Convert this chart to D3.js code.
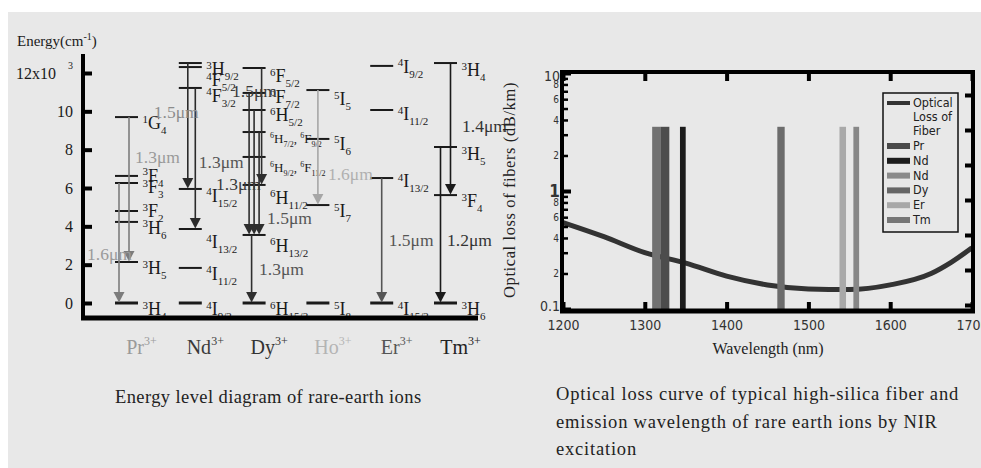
<!DOCTYPE html>
<html><head><meta charset="utf-8">
<script src="https://cdn.jsdelivr.net/npm/d3@7"></script>
<style>
html,body{margin:0;padding:0;background:#fff;}
svg{display:block;}
.narrow{font-stretch:condensed;}
</style></head><body>
<svg id="fig" width="981" height="468"></svg>
<script>
// ---------- Energy level diagram (energies in 10^3 cm^-1) ----------
const ions = ["Pr","Nd","Dy","Ho","Er","Tm"];
const energyTicks = [0,2,4,6,8,10,12];

const prLevels = [["1G4",9.70],["3F4",6.63],["3F3",6.26],["3F2",4.80],["3H6",4.23],["3H5",2.14],["3H4",0]];
const ndLevels = [["3H9/2",12.52],["4F5/2",12.31],["4F3/2",11.22],["4I15/2",5.95],["4I13/2",3.86],["4I11/2",1.83],["4I9/2",0]];
const dyLevels = [["6F5/2",12.26],["6F7/2",10.96],["6H5/2",10.07],["6H7/2, 6F9/2",8.92],["6H9/2, 6F11/2",7.62],["6H11/2",6.16],["6H13/2",3.55],["6H15/2",0]];
const hoLevels = [["5I5",11.11],["5I6",8.56],["5I7",5.11],["5I8",0]];
const erLevels = [["4I9/2",12.37],["4I11/2",10.07],["4I13/2",6.52],["4I15/2",0]];
const tmLevels = [["3H4",12.52],["3H5",8.14],["3F4",5.63],["3H6",0]];

// radiative transitions: ion, upper energy, lower energy, lane inside the ion column
const transIon  = ["Pr","Pr","Nd","Nd","Dy","Dy","Dy","Dy","Dy","Ho","Er","Tm","Tm"];
const transFrom = [9.70,6.26,12.52,11.22,12.26,10.96,10.07,8.92,3.55,11.11,6.52,12.52,8.14];
const transTo   = [2.14,0,5.95,3.86,6.16,3.55,3.55,3.55,0,5.11,0,5.63,0];
const transLane = [1,-3,-1,2,3,-2,0,2,-1,0,0,2,-2];

// emission wavelength annotations
const bandIon  = ["Nd","Pr","Pr","Nd","Dy","Dy","Dy","Dy","Ho","Er","Tm","Tm"];
const bandText = ["1.5μm","1.3μm","1.6μm","1.3μm","1.3μm","1.5μm","1.5μm","1.3μm","1.6μm","1.5μm","1.4μm","1.2μm"];
const bandE    = [9.65,7.30,2.24,7.04,5.90,10.75,4.10,1.46,6.42,2.97,8.92,2.97];

// ---------- Optical loss of silica fiber ----------
const lossWl = [1200,1250,1300,1350,1400,1450,1500,1550,1600,1650,1675,1700];
const lossDb = [0.54,0.41,0.30,0.245,0.19,0.16,0.148,0.146,0.16,0.20,0.25,0.33];
const wlTicks = [1200,1300,1400,1500,1600,1700];
const lossMajor = [0.1,1,10];
const lossMinor = [0.2,0.3,0.4,0.5,0.6,0.7,0.8,0.9,2,3,4,5,6,7,8,9];
const lossLabeled = [0.2,0.4,0.6,0.8,2,4,6,8];

// emission bands of the ions (nm) and their height on the loss axis
const emIon  = ["Nd","Pr","Nd","Dy","Er","Tm"];
const emFrom = [1309,1319,1343,1462,1538,1555];
const emTo   = [1319,1330,1350,1471,1546,1562];
const emPeak = 3.5;
const legendNames = ["Pr","Nd","Nd","Dy","Er","Tm"];

// ---------- styling ----------
const SERIF = "'Liberation Serif','Times New Roman',serif";
const NARROW = "'Liberation Sans Narrow','Arial Narrow','DejaVu Sans Condensed','DejaVu Sans',sans-serif";
const ionColor = {Pr:"#9a9a9a", Nd:"#3a3a3a", Dy:"#333", Ho:"#b4b4b4", Er:"#555", Tm:"#222"};
const arrowColor = {Pr:"#7c7c7c", Nd:"#2a2a2a", Dy:"#2e2e2e", Ho:"#a6a6a6", Er:"#555", Tm:"#1a1a1a"};
const bandColor = ["#8c8c8c","#9a9a9a","#9a9a9a","#555","#3a3a3a","#3a3a3a","#555","#555","#b0b0b0","#555","#333","#333"];
const bandDx = [-36.5,8.5,-39.5,8.5,-38,-22,13,5,10,7,16.5,1.5];
const emColor = ["#717171","#4c4c4c","#1c1c1c","#6c6c6c","#a9a9a9","#878787"];
const legendColor = ["#4a4a4a","#1c1c1c","#8a8a8a","#666","#a8a8a8","#777"];
const labelDrop = {"Pr:3F4":6,"Pr:3F3":10,"Pr:3F2":6,"Nd:4F5/2":19,"Nd:4F3/2":14,"Nd:4I15/2":13,"Nd:4I13/2":19,
  "Dy:6F5/2":14,"Dy:6F7/2":10,"Dy:6H5/2":11,"Dy:6H7/2, 6F9/2":11,"Dy:6H9/2, 6F11/2":15,"Dy:6H11/2":19,"Dy:6H13/2":17,
  "Ho:5I5":15,"Ho:5I6":11,"Er:4I9/2":7,"Er:4I11/2":10,"Er:4I13/2":9,"Tm:3H4":13,"Tm:3H5":13};

const svg = d3.select("#fig");
svg.append("rect").attr("x",8).attr("y",12).attr("width",973).attr("height",456).attr("fill","#e8e8e8");

// ================= left panel =================
const colX = d3.scalePoint().domain(ions).range([126.5,445.5]);
const yE = d3.scaleLinear().domain([0,12]).range([303,73]);
const HALF = 11.5, LANE = 2.5;
const levelsByIon = {Pr:prLevels, Nd:ndLevels, Dy:dyLevels, Ho:hoLevels, Er:erLevels, Tm:tmLevels};

const left = svg.append("g");

// spectroscopic term: pre-superscript multiplicity, letter, subscript J
function addTerm(textSel, term, big){
  const small = Math.round(big*0.6);
  let cur = 0;
  const move = t => { const d = t - cur; cur = t; return d; };
  term.split(", ").forEach((t,i) => {
    const m = t.match(/^(\d+)([A-Z])(.*)$/);
    if (i > 0) textSel.append("tspan").attr("font-size", big).attr("dy", move(0)).text(", ");
    textSel.append("tspan").attr("font-size", small).attr("dy", move(-big*0.36)).text(m[1]);
    textSel.append("tspan").attr("font-size", big).attr("dy", move(0)).text(m[2]);
    textSel.append("tspan").attr("font-size", small).attr("dy", move(big*0.28)).text(m[3]);
  });
}

ions.forEach(ion => {
  const cx = colX(ion);
  const g = left.append("g");
  g.selectAll("line.level").data(levelsByIon[ion]).join("line")
    .attr("x1", cx-HALF).attr("x2", cx+HALF)
    .attr("y1", d => yE(d[1])).attr("y2", d => yE(d[1]))
    .attr("stroke", "#1a1a1a").attr("stroke-width", d => d[1] === 0 ? 3 : 2);
  levelsByIon[ion].forEach(d => {
    const key = ion + ":" + d[0];
    const drop = labelDrop[key] !== undefined ? labelDrop[key] : 12;
    const composite = d[0].indexOf(",") >= 0;
    const t = g.append("text").attr("x", cx+16).attr("y", yE(d[1]) + drop)
      .attr("font-family", SERIF).attr("fill", "#1a1a1a");
    addTerm(t, d[0], composite ? 13 : 18);
  });
});

// transitions with arrowheads
transIon.forEach((ion,i) => {
  const x = colX(ion) + transLane[i]*LANE;
  const y1 = yE(transFrom[i]), y2 = yE(transTo[i]);
  const c = arrowColor[ion];
  left.append("line").attr("x1", x).attr("x2", x).attr("y1", y1).attr("y2", y2 - 8)
    .attr("stroke", c).attr("stroke-width", 1.6);
  left.append("path").attr("d", d3.line()([[x-5.5, y2-11],[x+5.5, y2-11],[x, y2-0.5]]) + "Z")
    .attr("fill", c);
});

// wavelength annotations
bandIon.forEach((ion,i) => {
  left.append("text").attr("x", colX(ion) + bandDx[i]).attr("y", yE(bandE[i]))
    .attr("font-family", SERIF).attr("font-size", 17.5).attr("fill", bandColor[i])
    .text(bandText[i]);
});

// ion names under the columns
ions.forEach(ion => {
  const t = left.append("text").attr("x", colX(ion) + 15).attr("y", 354)
    .attr("text-anchor", "middle").attr("font-family", SERIF).attr("fill", ionColor[ion]);
  t.append("tspan").attr("font-size", 20).text(ion);
  t.append("tspan").attr("font-size", 12).attr("dy", -9).text("3+");
});

// energy axis
const eAxis = d3.axisLeft(yE).tickValues(energyTicks).tickSize(-9).tickPadding(10)
  .tickFormat(d => d === 12 ? "" : d);
const eg = left.append("g").attr("transform", "translate(83,0)").call(eAxis);
eg.select(".domain").remove();
eg.selectAll(".tick line").attr("stroke", "#000").attr("stroke-width", 4);
eg.selectAll(".tick text").attr("font-family", SERIF).attr("font-size", 16).attr("fill", "#1a1a1a");
const top12 = eg.selectAll(".tick").filter(d => d === 12).select("text");
top12.append("tspan").text("12x10");
top12.append("tspan").attr("font-size", 10).attr("dx", 12).attr("dy", -10).text("3");
left.append("line").attr("x1", 83).attr("x2", 83).attr("y1", 54).attr("y2", 320)
  .attr("stroke", "#000").attr("stroke-width", 4);
left.append("line").attr("x1", 81).attr("x2", 478).attr("y1", 318).attr("y2", 318)
  .attr("stroke", "#000").attr("stroke-width", 5);

const et = left.append("text").attr("x", 17).attr("y", 46).attr("font-family", SERIF).attr("fill", "#1a1a1a");
et.append("tspan").attr("font-size", 15).text("Energy(cm");
et.append("tspan").attr("font-size", 10).attr("dy", -6).text("-1");
et.append("tspan").attr("font-size", 15).attr("dy", 6).text(")");

left.append("text").attr("x", 115).attr("y", 403).attr("font-family", SERIF).attr("font-size", 18.5)
  .attr("letter-spacing", 0.4).attr("fill", "#222").text("Energy level diagram of rare-earth ions");

// ================= right panel =================
const xW = d3.scaleLinear().domain([1200,1700]).range([563,972]);
const yL = d3.scaleLog().domain([0.1,10]).range([309,73]);
const right = svg.append("g");

right.append("path").datum(lossWl.map((w,i) => [w, lossDb[i]]))
  .attr("d", d3.line().x(d => xW(d[0])).y(d => yL(d[1])).curve(d3.curveMonotoneX))
  .attr("fill", "none").attr("stroke", "#333").attr("stroke-width", 5);

right.selectAll("rect.em").data(emIon).join("rect")
  .attr("x", (d,i) => xW(emFrom[i])).attr("width", (d,i) => xW(emTo[i]) - xW(emFrom[i]))
  .attr("y", yL(emPeak)).attr("height", yL(0.1) - yL(emPeak) + 2)
  .attr("fill", (d,i) => emColor[i]);

// frame
const frame = [[562,70,562,313],[560,72,975,72],[973,70,973,313],[560,311,975,311]];
frame.forEach((f,i) => right.append("line").attr("x1",f[0]).attr("y1",f[1]).attr("x2",f[2]).attr("y2",f[3])
  .attr("stroke","#000").attr("stroke-width", i === 3 ? 5 : 4));

// bottom / top axes
const xb = right.append("g").attr("transform","translate(0,311)")
  .call(d3.axisBottom(xW).tickValues(wlTicks).tickSize(-9).tickPadding(9).tickFormat(d3.format("d")));
xb.select(".domain").remove();
xb.selectAll(".tick line").attr("stroke","#000").attr("stroke-width",4);
xb.selectAll(".tick text").attr("class","narrow").attr("font-family", NARROW).attr("font-size",14).attr("fill","#333");
const xt = right.append("g").attr("transform","translate(0,72)")
  .call(d3.axisTop(xW).tickValues(wlTicks).tickSize(-9).tickFormat(""));
xt.select(".domain").remove();
xt.selectAll(".tick line").attr("stroke","#000").attr("stroke-width",4);

// log loss axis
const allTicks = lossMajor.concat(lossMinor);
const yAx = right.append("g").attr("transform","translate(562,0)")
  .call(d3.axisLeft(yL).tickValues(allTicks).tickSize(-6).tickPadding(3)
    .tickFormat(d => lossMajor.includes(d) || lossLabeled.includes(d) ? (d < 1 && lossMinor.includes(d) ? Math.round(d*10) : d) : ""));
yAx.select(".domain").remove();
yAx.selectAll(".tick line").attr("stroke","#000")
  .attr("x2", d => lossMajor.includes(d) ? 9 : 6)
  .attr("stroke-width", d => lossMajor.includes(d) ? 4 : 2.5);
yAx.selectAll(".tick text").attr("class","narrow").attr("font-family", NARROW).attr("fill","#333")
  .attr("font-size", d => d === 1 ? 17 : (lossMajor.includes(d) ? 14 : 10))
  .attr("font-weight", d => d === 1 ? "bold" : "normal")
  .attr("x", d => lossMajor.includes(d) ? -2 : -3)
  .attr("dy", d => d === 10 ? "0.5em" : (d === 0.1 ? "0.1em" : "0.32em"));

// unlabeled secondary scale on the right edge
const yR = d3.scaleLinear().domain([0,7]).range([340,95]);
const yRa = right.append("g").attr("transform","translate(973,0)")
  .call(d3.axisRight(yR).tickValues([1,2,3,4,5,6,7]).tickSize(-8).tickFormat(""));
yRa.select(".domain").remove();
yRa.selectAll(".tick line").attr("stroke","#000").attr("stroke-width",4);

// axis titles
right.append("text").attr("transform","translate(515,190) rotate(-90)").attr("text-anchor","middle")
  .attr("font-family", SERIF).attr("font-size",16.5).attr("letter-spacing",0.6).attr("fill","#222")
  .text("Optical loss of fibers (dB/km)");
right.append("text").attr("x",768).attr("y",354).attr("text-anchor","middle")
  .attr("font-family", SERIF).attr("font-size",16).attr("fill","#222").text("Wavelength (nm)");

// legend
const lg = right.append("g");
lg.append("rect").attr("x",883).attr("y",93).attr("width",75).attr("height",139)
  .attr("fill","none").attr("stroke","#111").attr("stroke-width",1.5);
lg.append("line").attr("x1",887).attr("x2",910).attr("y1",103).attr("y2",103).attr("stroke","#333").attr("stroke-width",4);
["Optical","Loss of","Fiber"].forEach((s,i) => lg.append("text").attr("class","narrow").attr("x",913).attr("y",107 + i*14)
  .attr("font-family", NARROW).attr("font-size",12.5).attr("fill","#222").text(s));
legendNames.forEach((n,i) => {
  const cy = 146 + i*14.8;
  lg.append("rect").attr("x",887).attr("y",cy-3).attr("width",23).attr("height",6).attr("fill",legendColor[i]);
  lg.append("text").attr("class","narrow").attr("x",913).attr("y",cy+4).attr("font-family", NARROW).attr("font-size",12.5)
    .attr("fill","#222").text(n);
});

// caption
["Optical loss curve of typical high-silica fiber and",
 "emission wavelength of rare earth ions by NIR",
 "excitation"].forEach((s,i) => right.append("text").attr("x",556).attr("y",400 + i*27.5)
  .attr("font-family", SERIF).attr("font-size",18.5).attr("letter-spacing",0.8).attr("fill","#222").text(s));
</script>
</body></html>
